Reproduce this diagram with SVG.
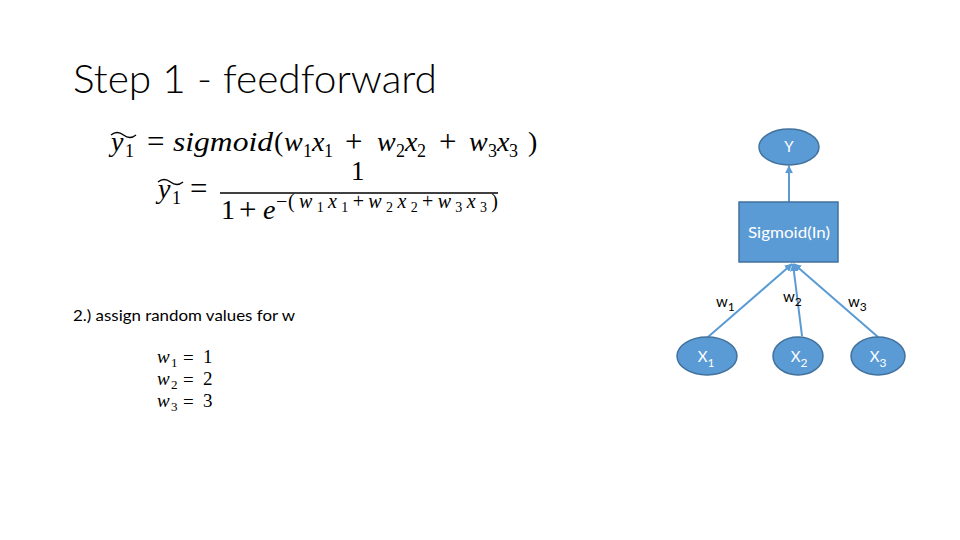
<svg xmlns="http://www.w3.org/2000/svg" width="960" height="540" viewBox="0 0 960 540">
<style>
.title{font-family:Lato,"Open Sans","Liberation Sans",sans-serif;font-weight:300;font-size:40px;fill:#000}
.body{font-family:Lato,"Open Sans","Liberation Sans",sans-serif;font-size:16px;fill:#000}
.m{font-family:"Liberation Serif","DejaVu Serif",serif;fill:#000}
.mi{font-style:italic}
.sb{font-size:18px}
.op{font-size:31px}
.node{fill:#5B9BD5;stroke:#41719C;stroke-width:1.5}
.nl{font-family:Lato,"Open Sans","Liberation Sans",sans-serif;font-size:15px;fill:#fff;text-anchor:middle}
.el{font-family:Lato,"Open Sans","Liberation Sans",sans-serif;font-size:15px;fill:#000}
.conn{stroke:#5B9BD5;stroke-width:2;fill:none}
</style>
<defs>
<marker id="arr" viewBox="0 0 10 10" refX="9" refY="5" markerWidth="4" markerHeight="4" orient="auto">
<path d="M0,0 L10,5 L0,10 z" fill="#5B9BD5"/>
</marker>
</defs>
<rect width="960" height="540" fill="#fff"/>
<text class="title" x="73" y="93" textLength="364" lengthAdjust="spacingAndGlyphs">Step 1 - feedforward</text>

<g id="eq1" class="m" font-size="28">
<path d="M111,135 q6,-5 12.5,0 t12.5,0" stroke="#000" stroke-width="1.4" fill="none"/>
<text x="111" y="151" class="mi">y</text>
<text x="125" y="157" class="sb">1</text>
<text x="147" y="152" class="op">=</text>
<text x="173" y="151" class="mi" textLength="100" lengthAdjust="spacingAndGlyphs">sigmoid</text>
<text x="274" y="151">(</text>
<text x="284" y="151" class="mi">w</text><text x="303" y="157" class="sb">1</text>
<text x="312" y="151" class="mi">x</text><text x="324" y="157" class="sb">1</text>
<text x="345" y="152" class="op">+</text>
<text x="377" y="151" class="mi">w</text><text x="396" y="157" class="sb">2</text>
<text x="405" y="151" class="mi">x</text><text x="417" y="157" class="sb">2</text>
<text x="439" y="152" class="op">+</text>
<text x="469" y="151" class="mi">w</text><text x="488" y="157" class="sb">3</text>
<text x="497" y="151" class="mi">x</text><text x="509" y="157" class="sb">3</text>
<text x="528" y="151">)</text>
</g>

<g id="eq2" class="m" font-size="28">
<path d="M158,182 q6,-5 12.5,0 t12.5,0" stroke="#000" stroke-width="1.4" fill="none"/>
<text x="158" y="198" class="mi">y</text>
<text x="172" y="204" class="sb">1</text>
<text x="190" y="199" class="op">=</text>
<text x="351" y="180" font-size="27">1</text>
<line x1="220" y1="193" x2="498" y2="193" stroke="#000" stroke-width="1.6"/>
<text x="221" y="219">1</text>
<text x="239" y="220" class="op">+</text>
<text x="263" y="219" class="mi">e</text>
<text x="276" y="208" font-size="20">−</text>
<text x="288" y="208" font-size="20" textLength="210" lengthAdjust="spacing">(<tspan class="mi">w</tspan><tspan font-size="14" dy="4">1</tspan><tspan class="mi" dy="-4">x</tspan><tspan font-size="14" dy="4">1</tspan><tspan dy="-4">+</tspan><tspan class="mi">w</tspan><tspan font-size="14" dy="4">2</tspan><tspan class="mi" dy="-4">x</tspan><tspan font-size="14" dy="4">2</tspan><tspan dy="-4">+</tspan><tspan class="mi">w</tspan><tspan font-size="14" dy="4">3</tspan><tspan class="mi" dy="-4">x</tspan><tspan font-size="14" dy="4">3</tspan><tspan dy="-4">)</tspan></text>
</g>

<text class="body" x="73" y="321" textLength="222" lengthAdjust="spacingAndGlyphs">2.) assign random values for w</text>

<g id="weights" class="m" font-size="19">
<text x="157" y="363" class="mi">w</text><text x="171" y="367" font-size="13">1</text><text x="183" y="364">=</text><text x="203" y="363">1</text>
<text x="157" y="385" class="mi">w</text><text x="171" y="389" font-size="13">2</text><text x="183" y="386">=</text><text x="203" y="385">2</text>
<text x="157" y="407" class="mi">w</text><text x="171" y="411" font-size="13">3</text><text x="183" y="408">=</text><text x="203" y="407">3</text>
</g>

<g id="connectors">
<line class="conn" x1="789" y1="202" x2="789" y2="166" marker-end="url(#arr)"/>
<line class="conn" x1="708" y1="337" x2="792" y2="264" marker-end="url(#arr)"/>
<line class="conn" x1="802" y1="336" x2="793" y2="264" marker-end="url(#arr)"/>
<line class="conn" x1="878" y1="337" x2="794" y2="264" marker-end="url(#arr)"/>
</g>

<g id="Y"><ellipse class="node" cx="789" cy="147" rx="30" ry="18"/><text class="nl" x="789" y="152">Y</text></g>
<g id="sigmoid"><rect class="node" x="739" y="202" width="99" height="60"/><text class="nl" x="789" y="238" textLength="82" lengthAdjust="spacingAndGlyphs">Sigmoid(In)</text></g>
<g id="X1"><ellipse class="node" cx="707" cy="356" rx="30" ry="19"/><text class="nl" x="706" y="362">X<tspan font-size="12" dy="5">1</tspan></text></g>
<g id="X2"><ellipse class="node" cx="798" cy="356" rx="25" ry="19"/><text class="nl" x="799" y="362">X<tspan font-size="12" dy="5">2</tspan></text></g>
<g id="X3"><ellipse class="node" cx="878" cy="356" rx="27" ry="19"/><text class="nl" x="878" y="362">X<tspan font-size="12" dy="5">3</tspan></text></g>

<g id="edge-labels">
<text class="el" x="716" y="307">w<tspan font-size="12" dy="4">1</tspan></text>
<text class="el" x="783" y="302">w<tspan font-size="12" dy="4">2</tspan></text>
<text class="el" x="848" y="307">w<tspan font-size="12" dy="4">3</tspan></text>
</g>
</svg>
